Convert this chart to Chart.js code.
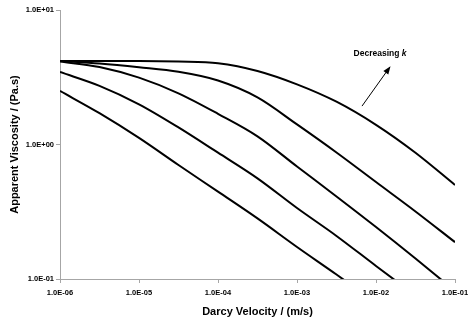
<!DOCTYPE html>
<html>
<head>
<meta charset="utf-8">
<script src="https://cdn.jsdelivr.net/npm/chart.js@4/dist/chart.umd.min.js"></script>
<style>
html,body{margin:0;padding:0;background:#fff;}
#wrap{width:475px;height:325px;position:relative;}
</style>
</head>
<body>
<div id="wrap"><canvas id="c" width="475" height="325"></canvas></div>
<script>
// Darcy velocity (m/s)
const velocity = [1e-6, 3.16e-6, 1e-5, 3.16e-5, 1e-4, 3.16e-4, 1e-3, 3.16e-3, 1e-2, 3.16e-2, 1e-1];
// Apparent viscosity (Pa.s) for five permeabilities (k decreasing from curve E to curve A)
const curveA = [4.18, 4.18, 4.18, 4.14, 4.02, 3.52, 2.80, 2.08, 1.40, 0.868, 0.500];
const curveB = [4.18, 4.00, 3.75, 3.47, 2.99, 2.24, 1.41, 0.872, 0.526, 0.318, 0.188];
const curveC = [4.14, 3.77, 3.14, 2.40, 1.69, 1.15, 0.686, 0.411, 0.2435, 0.142, 0.0815];
const curveD = [3.46, 2.73, 1.99, 1.34, 0.869, 0.560, 0.337, 0.209, 0.125, 0.0754];
const curveE = [2.50, 1.71, 1.12, 0.704, 0.446, 0.282, 0.173, 0.108, 0.0664];

const xTickValues = [1e-6, 1e-5, 1e-4, 1e-3, 1e-2, 1e-1];
const xTickLabels = ["1.0E-06", "1.0E-05", "1.0E-04", "1.0E-03", "1.0E-02", "1.0E-01"];
const yTickValues = [0.1, 1, 10];
const yTickLabels = ["1.0E-01", "1.0E+00", "1.0E+01"];

// annotation arrow (data coordinates)
const arrowFrom = {x: 6.65e-3, y: 1.93};
const arrowTo = {x: 0.0150, y: 3.77};
const labelAt = {x: 0.01125, y: 4.71};

const series = [curveA, curveB, curveC, curveD, curveE];
const datasets = series.map(arr => ({
  data: arr.map((v, i) => ({x: velocity[i], y: v})),
  borderColor: '#000',
  borderWidth: 2,
  pointRadius: 0,
  fill: false,
  cubicInterpolationMode: 'monotone'
}));

const FONT = '"Liberation Sans", Arial, sans-serif';

const annot = {
  id: 'annot',
  afterDatasetsDraw(chart) {
    const {ctx, scales: {x, y}} = chart;
    const x0 = x.getPixelForValue(arrowFrom.x), y0 = y.getPixelForValue(arrowFrom.y);
    const x1 = x.getPixelForValue(arrowTo.x), y1 = y.getPixelForValue(arrowTo.y);
    ctx.save();
    ctx.strokeStyle = '#000'; ctx.fillStyle = '#000'; ctx.lineWidth = 1;
    ctx.beginPath(); ctx.moveTo(x0, y0); ctx.lineTo(x1, y1); ctx.stroke();
    const ang = Math.atan2(y1 - y0, x1 - x0);
    const L = 7, W = 3;
    ctx.beginPath();
    ctx.moveTo(x1 + Math.cos(ang) * 1, y1 + Math.sin(ang) * 1);
    ctx.lineTo(x1 - L * Math.cos(ang) + W * Math.sin(ang), y1 - L * Math.sin(ang) - W * Math.cos(ang));
    ctx.lineTo(x1 - L * Math.cos(ang) - W * Math.sin(ang), y1 - L * Math.sin(ang) + W * Math.cos(ang));
    ctx.closePath(); ctx.fill();
    const tx = x.getPixelForValue(labelAt.x), ty = y.getPixelForValue(labelAt.y);
    ctx.textBaseline = 'middle';
    const t1 = 'Decreasing ', t2 = 'k';
    ctx.font = 'bold 8.5px ' + FONT;
    const w1 = ctx.measureText(t1).width;
    ctx.font = 'italic bold 8.5px ' + FONT;
    const w2 = ctx.measureText(t2).width;
    let sx = tx - (w1 + w2) / 2;
    ctx.font = 'bold 8.5px ' + FONT;
    ctx.textAlign = 'left';
    ctx.fillText(t1, sx, ty);
    ctx.font = 'italic bold 8.5px ' + FONT;
    ctx.fillText(t2, sx + w1, ty);
    ctx.restore();
  }
};

new Chart(document.getElementById('c'), {
  type: 'line',
  data: {datasets},
  plugins: [annot],
  options: {
    responsive: false,
    animation: false,
    parsing: false,
    layout: {padding: {top: 10, right: 20, left: 8, bottom: 0}},
    plugins: {legend: {display: false}, tooltip: {enabled: false}},
    scales: {
      x: {
        type: 'logarithmic',
        min: 1e-6, max: 1e-1,
        afterBuildTicks: s => { s.ticks = xTickValues.map(v => ({value: v})); },
        afterFit: s => { s.height = 46; },
        border: {color: '#a6a6a6', width: 1},
        grid: {drawOnChartArea: false, drawTicks: true, tickLength: 4, color: '#a6a6a6'},
        ticks: {
          autoSkip: false, maxRotation: 0, padding: 5, color: '#000',
          font: {family: FONT, size: 7.5, weight: 'bold'},
          callback: (v, i) => xTickLabels[i]
        },
        title: {display: true, text: 'Darcy Velocity / (m/s)', color: '#000',
          font: {family: FONT, size: 11, weight: 'bold'}, padding: {top: 0, bottom: 6}}
      },
      y: {
        type: 'logarithmic',
        min: 0.1, max: 10,
        afterBuildTicks: s => { s.ticks = yTickValues.map(v => ({value: v})); },
        afterFit: s => { s.width = 52; },
        border: {color: '#a6a6a6', width: 1},
        grid: {drawOnChartArea: false, drawTicks: true, tickLength: 4, color: '#a6a6a6'},
        ticks: {
          autoSkip: false, padding: 2, color: '#000',
          font: {family: FONT, size: 7.5, weight: 'bold'},
          callback: (v, i) => yTickLabels[i]
        },
        title: {display: true, text: 'Apparent Viscosity / (Pa.s)', color: '#000',
          font: {family: FONT, size: 11, weight: 'bold'}, padding: {top: 0, bottom: 0}}
      }
    }
  }
});
</script>
</body>
</html>
